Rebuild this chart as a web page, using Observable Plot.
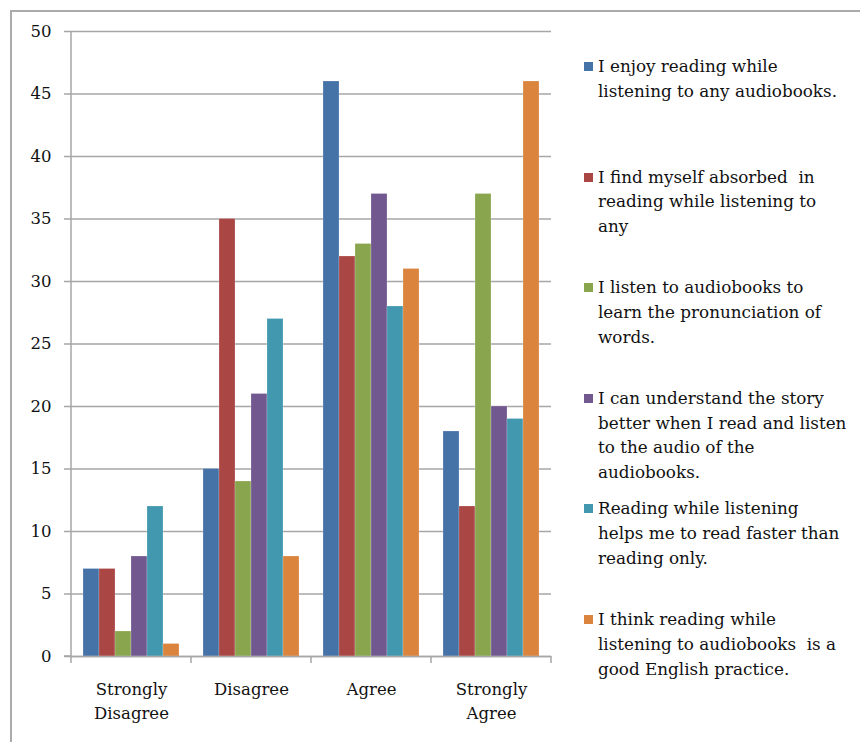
<!DOCTYPE html>
<html>
<head>
<meta charset="utf-8">
<script src="https://cdn.jsdelivr.net/npm/d3@7"></script>
<script src="https://cdn.jsdelivr.net/npm/@observablehq/plot@0.6"></script>
<style>
  html, body { margin: 0; padding: 0; background: #fff; }
  body { width: 860px; height: 742px; position: relative; overflow: hidden; font-family: "DejaVu Serif", serif; color: #111; }
  #border { position: absolute; left: 10px; top: 10px; width: 900px; height: 800px; border-top: 2px solid #ababab; border-left: 2px solid #ababab; }
  #chart { position: absolute; left: 0; top: 0; }
  .item { position: absolute; left: 584px; width: 276px; }
  .swatch { position: absolute; left: 0; top: 8px; width: 9px; height: 9px; }
  .label { position: absolute; left: 14px; font-size: 16.8px; line-height: 24.8px; white-space: nowrap; }
</style>
</head>
<body>
<div id="border"></div>
<div id="chart"></div>
<div id="legend"></div>
<script>
const categories = ["Strongly Disagree", "Disagree", "Agree", "Strongly Agree"];
const categoryLabels = ["Strongly\nDisagree", "Disagree", "Agree", "Strongly\nAgree"];
const seriesNames = [
  "I enjoy reading while listening to any audiobooks.",
  "I find myself absorbed in reading while listening to any",
  "I listen to audiobooks to learn the pronunciation of words.",
  "I can understand the story better when I read and listen to the audio of the audiobooks.",
  "Reading while listening helps me to read faster than reading only.",
  "I think reading while listening to audiobooks is a good English practice."
];
const legendLines = [
  ["I enjoy reading while", "listening to any audiobooks."],
  ["I find myself absorbed  in", "reading while listening to", "any"],
  ["I listen to audiobooks to", "learn the pronunciation of", "words."],
  ["I can understand the story", "better when I read and listen", "to the audio of the", "audiobooks."],
  ["Reading while listening", "helps me to read faster than", "reading only."],
  ["I think reading while", "listening to audiobooks  is a", "good English practice."]
];
const valuesEnjoy = [7, 15, 46, 18];
const valuesAbsorbed = [7, 35, 32, 12];
const valuesPronunciation = [2, 14, 33, 37];
const valuesUnderstand = [8, 21, 37, 20];
const valuesFaster = [12, 27, 28, 19];
const valuesPractice = [1, 8, 31, 46];
const yTicks = [0, 5, 10, 15, 20, 25, 30, 35, 40, 45, 50];
const colors = ["#4572A7", "#AA4643", "#89A54E", "#71588F", "#4198AF", "#DB843D"];

const seriesValues = [valuesEnjoy, valuesAbsorbed, valuesPronunciation, valuesUnderstand, valuesFaster, valuesPractice];
const data = [];
categories.forEach((c, ci) => {
  seriesNames.forEach((s, si) => {
    data.push({category: c, series: s, value: seriesValues[si][ci]});
  });
});
const labelFor = c => categoryLabels[categories.indexOf(c)];

const chart = Plot.plot({
  width: 570,
  height: 740,
  marginLeft: 70,
  marginTop: 31,
  marginRight: 18,
  marginBottom: 84,
  style: {fontFamily: "DejaVu Serif, serif", fontSize: "16px", color: "#111", background: "transparent"},
  fx: {domain: categories, padding: 0, label: null},
  x: {domain: seriesNames, paddingInner: 0, paddingOuter: 0.75, axis: null},
  y: {domain: [0, 50], label: null},
  color: {domain: seriesNames, range: colors},
  marks: [
    Plot.gridY(yTicks, {stroke: "#a6a6a6", strokeOpacity: 1, strokeWidth: 1.5}),
    Plot.axisY(yTicks, {tickSize: 7, tickPadding: 13, fontSize: 16.5, label: null, stroke: "#a6a6a6", strokeWidth: 1.5}),
    Plot.axisFx({anchor: "bottom", tickSize: 0, tickPadding: 22, tickFormat: labelFor, lineHeight: 1.45, fontSize: 16.5, label: null}),
    Plot.barY(data, {fx: "category", x: "series", y: "value", fill: "series", stroke: "#ffffff", strokeOpacity: 0.35, strokeWidth: 0.6}),
    Plot.ruleY([0], {stroke: "#a6a6a6", strokeWidth: 1.5})
  ]
});

// Category separators and vertical axis line, drawn from the plot's own scales
const fxS = chart.scale("fx");
const yS = chart.scale("y");
const y0 = yS.apply(0), yTop = yS.apply(50);
const bounds = categories.map(c => fxS.apply(c));
bounds.push(fxS.apply(categories[categories.length - 1]) + fxS.bandwidth);
const g = d3.select(chart).append("g").attr("stroke", "#a6a6a6").attr("stroke-width", 1.5);
g.append("line").attr("x1", bounds[0]).attr("x2", bounds[0]).attr("y1", yTop).attr("y2", y0);
bounds.forEach(b => {
  g.append("line").attr("x1", b).attr("x2", b).attr("y1", y0).attr("y2", y0 + 7);
});
g.append("line").attr("x1", bounds[0] - 7).attr("x2", bounds[0]).attr("y1", y0).attr("y2", y0);

document.getElementById("chart").appendChild(chart);

// Legend
const legend = document.getElementById("legend");
legendLines.forEach((lines, i) => {
  const item = document.createElement("div");
  item.className = "item";
  item.style.top = (54 + i * 110.6) + "px";
  const sw = document.createElement("div");
  sw.className = "swatch";
  sw.style.background = colors[i];
  const lab = document.createElement("div");
  lab.className = "label";
  lab.innerHTML = lines.map(l => l.replace(/ {2}/g, " &nbsp;")).join("<br>");
  item.appendChild(sw);
  item.appendChild(lab);
  legend.appendChild(item);
});
</script>
</body>
</html>
